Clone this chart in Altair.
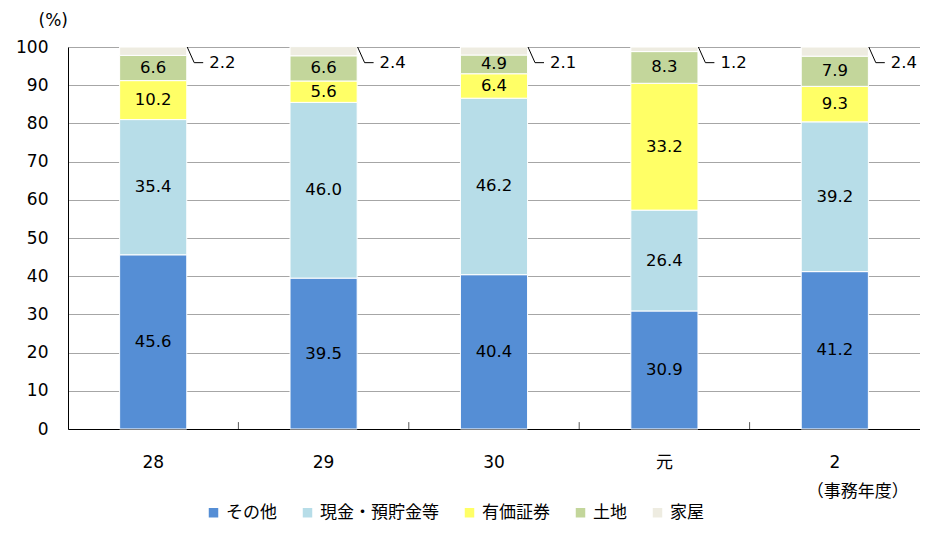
import altair as alt
import pandas as pd

years = ["28", "29", "30", "元", "2"]
categories = ["その他", "現金・預貯金等", "有価証券", "土地", "家屋"]
colors = ["#558ED5", "#B7DDE8", "#FFFF66", "#C3D69B", "#EEECE1"]
unit_note = "（事務年度）"

v_sonota = [45.6, 39.5, 40.4, 30.9, 41.2]
v_genkin = [35.4, 46.0, 46.2, 26.4, 39.2]
v_yuka = [10.2, 5.6, 6.4, 33.2, 9.3]
v_tochi = [6.6, 6.6, 4.9, 8.3, 7.9]
v_kaoku = [2.2, 2.4, 2.1, 1.2, 2.4]

series = [v_sonota, v_genkin, v_yuka, v_tochi, v_kaoku]

rows = []
for i, y in enumerate(years):
    cum = 0.0
    for k, cat in enumerate(categories):
        v = series[k][i]
        rows.append({"year": y, "cat": cat, "order": k, "value": v,
                     "mid": cum + v / 2, "top": min(cum + v, 100.0)})
        cum += v
df = pd.DataFrame(rows)
df_in = df[df["cat"] != "家屋"]
df_out = df[df["cat"] == "家屋"].copy()
LEADER_Y = 95.9
df_out["ly"] = LEADER_Y
df_ticks = pd.DataFrame({"year": years[1:], "y0": 0.0, "y1": 1.8})
df_note = pd.DataFrame({"year": [years[-1]], "text": [unit_note], "ny": [-16.5]})

NUM_FONT = "DejaVu Sans, Noto Sans CJK JP"
JP_FONT = "Noto Sans CJK JP"

xscale = alt.Scale(domain=years, paddingInner=0.606, paddingOuter=0.303)
yscale = alt.Scale(domain=[0, 100], nice=False)

x_axis = alt.Axis(
    title=None, labelAngle=0, ticks=False, domainColor="#000000", domainWidth=1,
    labelPadding=25, labelFontSize=17, labelFont=NUM_FONT, labelColor="#000000",
    labelBaseline="top")

y_axis = alt.Axis(
    values=list(range(0, 101, 10)), title="(%)", titleAngle=0, titleX=-30,
    titleY=-27, titleAlign="left", titleBaseline="middle", titleFontSize=17,
    titleFont=NUM_FONT, titleFontWeight="normal", titleColor="#000000",
    ticks=False, domainColor="#000000", labelPadding=20, labelFontSize=17,
    labelFont=NUM_FONT, labelColor="#000000", gridColor="#A6A6A6",
    labelOverlap=False, tickCount=11)


def X():
    return alt.X("year:N", scale=xscale, sort=years, axis=x_axis)


def Y(field):
    return alt.Y(field, scale=yscale, axis=y_axis)


bars = alt.Chart(df).mark_bar(stroke="white", strokeWidth=1).encode(
    x=X(),
    y=alt.Y("value:Q", stack="zero", scale=yscale, axis=y_axis),
    color=alt.Color("cat:N", scale=alt.Scale(domain=categories, range=colors),
                    sort=categories,
                    legend=alt.Legend(title=None, orient="none", direction="horizontal",
                                      legendX=137, legendY=457, symbolType="square",
                                      symbolSize=90, symbolStrokeWidth=0,
                                      labelFont=JP_FONT, labelFontSize=17,
                                      labelColor="#000000", columnPadding=22,
                                      symbolOffset=0, labelOffset=4)),
    order=alt.Order("order:Q", sort="ascending"),
)

labels = alt.Chart(df_in).mark_text(fontSize=16.5, font=NUM_FONT, color="#000000",
                                    baseline="middle").encode(
    x=X(),
    y=Y("mid:Q"),
    text=alt.Text("value:Q", format=".1f"),
)

leader1 = alt.Chart(df_out).mark_rule(color="#000000", strokeWidth=1,
                                      xOffset=34, x2Offset=41).encode(
    x=X(),
    x2="year:N",
    y=Y("top:Q"),
    y2="ly:Q",
)
leader2 = alt.Chart(df_out).mark_rule(color="#000000", strokeWidth=1,
                                      xOffset=41, x2Offset=50).encode(
    x=X(),
    x2="year:N",
    y=Y("ly:Q"),
)
out_labels = alt.Chart(df_out).mark_text(fontSize=16.5, font=NUM_FONT, color="#000000",
                                         align="left", baseline="middle",
                                         xOffset=56).encode(
    x=X(),
    y=Y("ly:Q"),
    text=alt.Text("value:Q", format=".1f"),
)

ticks = alt.Chart(df_ticks).mark_rule(color="#595959", strokeWidth=1,
                                      xOffset=-85.2).encode(
    x=X(),
    y=Y("y0:Q"),
    y2="y1:Q",
)

note = alt.Chart(df_note).mark_text(fontSize=17, font=JP_FONT, color="#000000",
                                    align="center", baseline="middle",
                                    xOffset=23).encode(
    x=X(),
    y=Y("ny:Q"),
    text="text:N",
)

chart = alt.layer(bars, labels, leader1, leader2, out_labels, ticks, note).properties(
    width=852, height=382,
    autosize=alt.AutoSizeParams(type="none"),
    padding={"left": 60, "top": 39, "right": 0, "bottom": 100},
).configure_view(stroke=None).configure(background="white")

chart.save("out.html", embed_options={"renderer": "svg", "actions": False})
